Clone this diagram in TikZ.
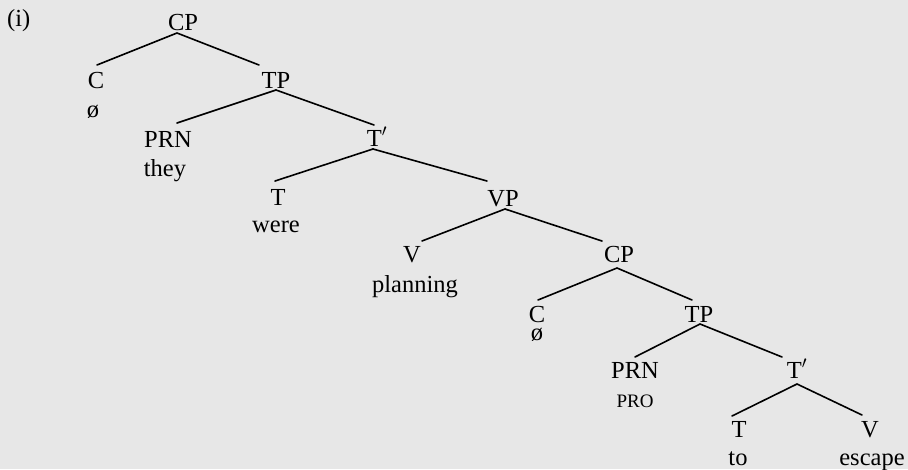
\documentclass[tikz,border=0pt]{standalone}
\usepackage{fontspec}
\setmainfont{Liberation Serif}
\usetikzlibrary{calc}
\definecolor{bgc}{RGB}{231,231,231}
\begin{document}
\begin{tikzpicture}[x=1pt,y=-1pt,
  lab/.style={font=\fontsize{24.5}{28}\selectfont, inner sep=0pt, anchor=base},
  word/.style={font=\fontsize{24.5}{28}\selectfont, inner sep=0pt, anchor=base},
  sc/.style={font=\fontsize{19}{22}\selectfont, inner sep=0pt, anchor=base},
  br/.style={line width=1.6pt, line cap=round}]
\fill[bgc] (0,0) rectangle (908,469);
\useasboundingbox (0,0) rectangle (908,469);
\node[lab, anchor=base west] (ex) at (7,26) {(i)};
\node[lab] (cp1) at (183,30) {CP};
\node[lab] (c1) at (96,88) {C};
\node[word] (n1) at (93,117) {ø};
\node[lab] (tp1) at (276,88) {TP};
\node[lab] (prn1) at (168,147) {PRN};
\node[word] (they) at (165,176) {they};
\node[lab] (tb1) at (377,146) {T$'$};
\node[lab] (t1) at (278,205) {T};
\node[word] (were) at (276,232) {were};
\node[lab] (vp) at (503,206) {VP};
\node[lab] (v1) at (412,262) {V};
\node[word] (planning) at (415,292) {planning};
\node[lab] (cp2) at (619,262) {CP};
\node[lab] (c2) at (537,322) {C};
\node[word] (n2) at (537,340) {ø};
\node[lab] (tp2) at (699,322) {TP};
\node[lab] (prn2) at (635,378) {PRN};
\node[sc] (pro) at (635,407) {PRO};
\node[lab] (tb2) at (797,378) {T$'$};
\node[lab] (t2) at (739,437) {T};
\node[word] (to) at (738,465) {to};
\node[lab] (v2) at (870,437) {V};
\node[word] (escape) at (872,465) {escape};
% branches
\draw[br] ($(cp1.base)+(-6,3)$) -- ($(c1.base)+(1,-23)$);
\draw[br] ($(cp1.base)+(-6,3)$) -- ($(tp1.base)+(-17,-23)$);
\draw[br] ($(tp1.base)+(0,2)$) -- ($(prn1.base)+(9,-24)$);
\draw[br] ($(tp1.base)+(0,2)$) -- ($(tb1.base)+(-3,-21)$);
\draw[br] ($(tb1.base)+(-4,3)$) -- ($(t1.base)+(-3,-24)$);
\draw[br] ($(tb1.base)+(-4,3)$) -- ($(vp.base)+(-16,-25)$);
\draw[br] ($(vp.base)+(2,3)$) -- ($(v1.base)+(10,-21)$);
\draw[br] ($(vp.base)+(2,3)$) -- ($(cp2.base)+(-17,-21)$);
\draw[br] ($(cp2.base)+(-2,6)$) -- ($(c2.base)+(1,-22)$);
\draw[br] ($(cp2.base)+(-2,6)$) -- ($(tp2.base)+(-7,-22)$);
\draw[br] ($(tp2.base)+(1,2)$) -- ($(prn2.base)+(0,-21)$);
\draw[br] ($(tp2.base)+(1,2)$) -- ($(tb2.base)+(-15,-21)$);
\draw[br] ($(tb2.base)+(0,6)$) -- ($(t2.base)+(-7,-21)$);
\draw[br] ($(tb2.base)+(0,6)$) -- ($(v2.base)+(-8,-22)$);
\end{tikzpicture}
\end{document}
